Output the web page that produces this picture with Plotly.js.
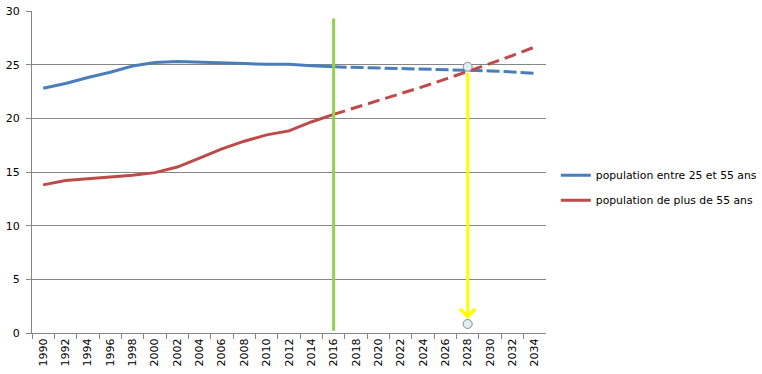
<!DOCTYPE html>
<html>
<head>
<meta charset="utf-8">
<script src="https://cdn.plot.ly/plotly-3.0.1.min.js"></script>
<style>html,body{margin:0;padding:0;background:#fff;}#chart{width:762px;height:374px;}</style>
</head>
<body>
<div id="chart"></div>
<script>
// Category labels (every two years)
const years = ['1990','1992','1994','1996','1998','2000','2002','2004','2006','2008','2010','2012','2014','2016','2018','2020','2022','2024','2026','2028','2030','2032','2034'];
const histYears = ['1990','1992','1994','1996','1998','2000','2002','2004','2006','2008','2010','2012','2014','2016'];
const projYears = ['2016','2018','2020','2022','2024','2026','2028','2030','2032','2034'];

// population entre 25 et 55 ans
const blueHist = [22.8, 23.25, 23.8, 24.3, 24.88, 25.2, 25.3, 25.25, 25.15, 25.1, 25.03, 25.03, 24.9, 24.8];
const blueProj = [24.8, 24.75, 24.7, 24.65, 24.58, 24.55, 24.52, 24.42, 24.32, 24.2];
// population de plus de 55 ans
const redHist = [13.8, 14.2, 14.38, 14.54, 14.7, 14.94, 15.46, 16.3, 17.16, 17.87, 18.46, 18.83, 19.66, 20.37];
const redProj = [20.37, 21.0, 21.65, 22.3, 22.95, 23.65, 24.35, 25.1, 25.85, 26.65];

// Vertical marker line at 2016
const markerLineX = ['2016', '2016'];
const markerLineY = [0.2, 29.3];
// Crossing point and its projection on the x axis
const pointYear = '2028';
const pointX = ['2028', '2028'];
const pointY = [24.8, 0.84];

const seriesNames = ['population entre 25 et 55 ans', 'population de plus de 55 ans'];

const BLUE = '#4A7EBB', RED = '#BE4B48', GREY = '#868686';
const FONT = 'DejaVu Sans, Verdana, sans-serif';

const traces = [
  {x: histYears, y: blueHist, type: 'scatter', mode: 'lines', name: seriesNames[0], legendgroup: 'a',
   line: {color: BLUE, width: 3}},
  {x: projYears, y: blueProj, type: 'scatter', mode: 'lines', showlegend: false, legendgroup: 'a',
   line: {color: BLUE, width: 3, dash: '13px,4px'}},
  {x: histYears, y: redHist, type: 'scatter', mode: 'lines', name: seriesNames[1], legendgroup: 'b',
   line: {color: RED, width: 3}},
  {x: projYears, y: redProj, type: 'scatter', mode: 'lines', showlegend: false, legendgroup: 'b',
   line: {color: RED, width: 3, dash: '12px,6px'}},
  {x: markerLineX, y: markerLineY, type: 'scatter', mode: 'lines', showlegend: false,
   line: {color: '#92D050', width: 3}},
  {x: pointX, y: pointY, type: 'scatter', mode: 'markers', showlegend: false,
   marker: {size: 9, color: '#DCEFF4', line: {color: '#8C8C8C', width: 1}}}
];

const idx = years.indexOf(pointYear);

const layout = {
  width: 762, height: 374,
  margin: {l: 32, r: 0, t: 11, b: 41, pad: 0},
  paper_bgcolor: '#fff', plot_bgcolor: '#fff',
  font: {family: FONT, size: 11, color: '#000'},
  showlegend: true,
  legend: {x: 0.7205, xanchor: 'left', y: 0.535, yanchor: 'top', traceorder: 'grouped', tracegroupgap: 6,
           font: {family: FONT, size: 10.8, color: '#000'}, bgcolor: 'rgba(0,0,0,0)'},
  xaxis: {type: 'category', categoryorder: 'array', categoryarray: years, range: [-0.5, years.length - 0.5],
          domain: [0, 516 / 730],
          tickson: 'boundaries', ticks: 'outside', ticklen: 5, tickcolor: GREY, tickwidth: 1,
          showline: true, linecolor: GREY, linewidth: 1, showgrid: false, zeroline: false,
          tickangle: -90, tickfont: {family: FONT, size: 11, color: '#000'}, fixedrange: true},
  yaxis: {range: [0, 30], dtick: 5, tick0: 0, ticks: 'outside', ticklen: 5, tickcolor: GREY,
          showline: true, linecolor: GREY, linewidth: 1, showgrid: true, gridcolor: GREY, gridwidth: 1,
          zeroline: false, tickfont: {family: FONT, size: 11, color: '#000'}, ticklabelstandoff: 4, fixedrange: true},
  annotations: [{
    x: idx, y: pointY[1], ax: idx, ay: pointY[0], xref: 'x', yref: 'y', axref: 'x', ayref: 'y',
    text: '', showarrow: true, arrowhead: 4, arrowsize: 1, arrowwidth: 3, arrowcolor: '#FFFF00',
    standoff: 5, startstandoff: 5
  }]
};

Plotly.newPlot('chart', traces, layout, {displayModeBar: false, staticPlot: true});
</script>
</body>
</html>
